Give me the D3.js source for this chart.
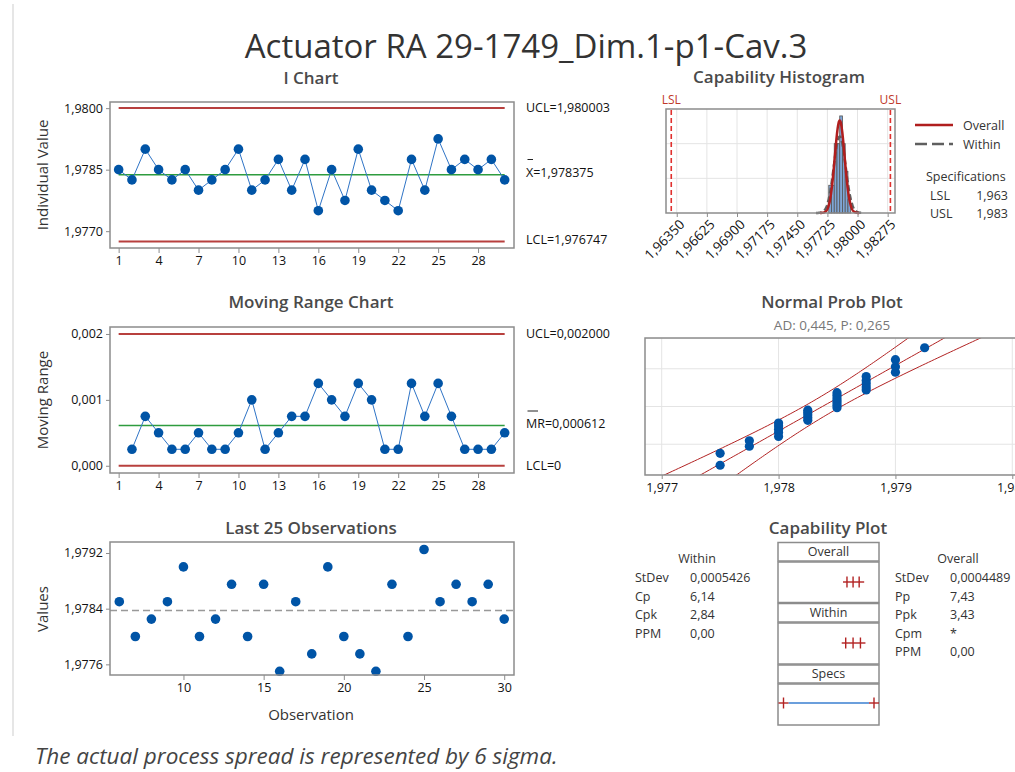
<!DOCTYPE html>
<html>
<head>
<meta charset="UTF-8">
<title>Process Capability Sixpack</title>
<script src="https://d3js.org/d3.v7.min.js"></script>
<style>
  body { margin: 0; background: #fff; }
  svg { font-family: "Open Sans", "Noto Sans", sans-serif; }
  .frame { fill: none; stroke: #8c8c8c; stroke-width: 1.5; }
  .tick text { fill: #111; font-size: 12.5px; font-family: "Open Sans", "Noto Sans", sans-serif; }
  .tick line { stroke: #8c8c8c; }
  .ptitle { fill: #4a4a4a; font-size: 17px; font-weight: 600; text-anchor: middle; }
  .ylab { fill: #333; font-size: 15px; text-anchor: middle; }
  .lim { fill: #111; font-size: 12.5px; }
  .grid { stroke: #e4e4e4; stroke-width: 1; }
  .stat { fill: #333; font-size: 12.5px; }
</style>
</head>
<body>
<svg width="1015" height="772"></svg>
<script>
// ---- data ----
const obsNo = [1,2,3,4,5,6,7,8,9,10,11,12,13,14,15,16,17,18,19,20,21,22,23,24,25,26,27,28,29,30];
const values = [1.9785, 1.97825, 1.979, 1.9785, 1.97825, 1.9785, 1.978, 1.97825, 1.9785, 1.979,
                1.978, 1.97825, 1.97875, 1.978, 1.97875, 1.9775, 1.9785, 1.97775, 1.979, 1.978,
                1.97775, 1.9775, 1.97875, 1.978, 1.97925, 1.9785, 1.97875, 1.9785, 1.97875, 1.97825];
const movingRange = [null, 0.00025, 0.00075, 0.0005, 0.00025, 0.00025, 0.0005, 0.00025, 0.00025, 0.0005,
                     0.001, 0.00025, 0.0005, 0.00075, 0.00075, 0.00125, 0.001, 0.00075, 0.00125, 0.001,
                     0.00025, 0.00025, 0.00125, 0.00075, 0.00125, 0.00075, 0.00025, 0.00025, 0.00025, 0.0005];

const meanX = 1.978375, uclX = 1.980003, lclX = 1.976747;
const mrBar = 0.000612, uclMR = 0.002, lclMR = 0;
const lsl = 1.963, usl = 1.983;
const sdWithin = 0.0005426, sdOverall = 0.0004489;

const binMids = [1.9775, 1.97775, 1.978, 1.97825, 1.9785, 1.97875, 1.979, 1.97925];
const binCounts = [2, 2, 5, 5, 7, 5, 3, 1];
const binWidth = 0.00025;

const iXTicks = [1,4,7,10,13,16,19,22,25,28];
const iYTicks = [1.977, 1.9785, 1.98];
const mrYTicks = [0, 0.001, 0.002];
const lastXTicks = [10,15,20,25,30];
const lastYTicks = [1.9776, 1.9784, 1.9792];
const histTicks = [1.9635, 1.96625, 1.969, 1.97175, 1.9745, 1.97725, 1.98, 1.98275];
const probTicks = [1.977, 1.978, 1.979, 1.98];
const probGrid = [0.01, 0.1, 0.5, 0.9, 0.99];

const withinStats = [["StDev", "0,0005426"], ["Cp", "6,14"], ["Cpk", "2,84"], ["PPM", "0,00"]];
const overallStats = [["StDev", "0,0004489"], ["Pp", "7,43"], ["Ppk", "3,43"], ["Cpm", "*"], ["PPM", "0,00"]];

// ---- helpers ----
const svg = d3.select("svg");
const fmt = d3.formatLocale({decimal: ",", thousands: ".", grouping: [3], currency: ["", ""]}).format;

const BLUE = "#0054a6", LINE = "#2f74c6", RED = "#b8403e", GREEN = "#2e9c3f";

function frame(x0, y0, x1, y1) {
  svg.append("rect").attr("class", "frame")
    .attr("x", x0).attr("y", y0).attr("width", x1 - x0).attr("height", y1 - y0);
}
function title(txt, x, y) {
  svg.append("text").attr("class", "ptitle").attr("x", x).attr("y", y).attr("dy", "0.35em").text(txt);
}
function ylabel(txt, x, y) {
  svg.append("text").attr("class", "ylab").attr("transform", `translate(${x},${y}) rotate(-90)`)
    .attr("dy", "0.35em").text(txt);
}
function noDomain(g) { g.select(".domain").remove(); }

function probit(p) {
  const a = [-3.969683028665376e+01, 2.209460984245205e+02, -2.759285104469687e+02, 1.383577518672690e+02, -3.066479806614716e+01, 2.506628277459239e+00];
  const b = [-5.447609879822406e+01, 1.615858368580409e+02, -1.556989798598866e+02, 6.680131188771972e+01, -1.328068155288572e+01];
  const c = [-7.784894002430293e-03, -3.223964580411365e-01, -2.400758277161838e+00, -2.549732539343734e+00, 4.374664141464968e+00, 2.938163982698783e+00];
  const d = [7.784695709041462e-03, 3.224671290700398e-01, 2.445134137142996e+00, 3.754408661907416e+00];
  let q, r;
  if (p < 0.02425) {
    q = Math.sqrt(-2 * Math.log(p));
    return (((((c[0]*q+c[1])*q+c[2])*q+c[3])*q+c[4])*q+c[5]) / ((((d[0]*q+d[1])*q+d[2])*q+d[3])*q+1);
  }
  if (p <= 1 - 0.02425) {
    q = p - 0.5; r = q * q;
    return (((((a[0]*r+a[1])*r+a[2])*r+a[3])*r+a[4])*r+a[5])*q / (((((b[0]*r+b[1])*r+b[2])*r+b[3])*r+b[4])*r+1);
  }
  q = Math.sqrt(-2 * Math.log(1 - p));
  return -(((((c[0]*q+c[1])*q+c[2])*q+c[3])*q+c[4])*q+c[5]) / ((((d[0]*q+d[1])*q+d[2])*q+d[3])*q+1);
}
const pdf = (x, m, s) => Math.exp(-0.5 * ((x - m) / s) ** 2) / (s * Math.sqrt(2 * Math.PI));

// page edge line
svg.append("line").attr("x1", 13).attr("x2", 13).attr("y1", 4).attr("y2", 736)
  .attr("stroke", "#dedede").attr("stroke-width", 1.5);

// main title
svg.append("text").attr("x", 526).attr("y", 58).attr("text-anchor", "middle")
  .attr("font-size", 33).attr("fill", "#333").text("Actuator RA 29-1749_Dim.1-p1-Cav.3");

// ================= I Chart =================
const xI = d3.scaleLinear().domain([0.35, 30.7]).range([110, 514]);
const yI = d3.scaleLinear().domain([1.97659, 1.98015]).range([248, 102]);
title("I Chart", 311, 78);
ylabel("Individual Value", 43, 175);

svg.append("g").attr("transform", "translate(0,248)")
  .call(d3.axisBottom(xI).tickValues(iXTicks).tickSize(5).tickPadding(3).tickFormat(d3.format("d"))).call(noDomain);
svg.append("g").attr("transform", "translate(110,0)")
  .call(d3.axisLeft(yI).tickValues(iYTicks).tickSize(4).tickPadding(3).tickFormat(fmt(".4f"))).call(noDomain);

[[uclX, RED, 2], [lclX, RED, 2], [meanX, GREEN, 1.6]].forEach(([v, col, w]) => {
  svg.append("line").attr("x1", xI(1)).attr("x2", xI(30)).attr("y1", yI(v)).attr("y2", yI(v))
    .attr("stroke", col).attr("stroke-width", w);
});
svg.append("path").datum(obsNo)
  .attr("d", d3.line().x(d => xI(d)).y((d, i) => yI(values[i])))
  .attr("fill", "none").attr("stroke", LINE).attr("stroke-width", 1);
svg.append("g").selectAll("circle").data(obsNo).join("circle")
  .attr("cx", d => xI(d)).attr("cy", (d, i) => yI(values[i])).attr("r", 4.8).attr("fill", BLUE);
frame(110, 102, 514, 248);

svg.append("text").attr("class", "lim").attr("x", 526).attr("y", yI(uclX)).attr("dy", "0.35em").text("UCL=" + fmt(".6f")(uclX));
svg.append("text").attr("class", "lim").attr("x", 526).attr("y", 173).attr("dy", "0.35em").text("X=" + fmt(".6f")(meanX));
svg.append("line").attr("x1", 527.5).attr("x2", 533).attr("y1", 159.5).attr("y2", 159.5).attr("stroke", "#222");
svg.append("text").attr("class", "lim").attr("x", 526).attr("y", 240).attr("dy", "0.35em").text("LCL=" + fmt(".6f")(lclX));

// ================= Moving Range =================
const yM = d3.scaleLinear().domain([-0.00011, 0.002106]).range([473, 327]);
title("Moving Range Chart", 311, 302);
ylabel("Moving Range", 43, 400);

svg.append("g").attr("transform", "translate(0,473)")
  .call(d3.axisBottom(xI).tickValues(iXTicks).tickSize(5).tickPadding(3).tickFormat(d3.format("d"))).call(noDomain);
svg.append("g").attr("transform", "translate(110,0)")
  .call(d3.axisLeft(yM).tickValues(mrYTicks).tickSize(4).tickPadding(3).tickFormat(fmt(".3f"))).call(noDomain);

[[uclMR, RED, 2], [lclMR, RED, 2], [mrBar, GREEN, 1.6]].forEach(([v, col, w]) => {
  svg.append("line").attr("x1", xI(1)).attr("x2", xI(30)).attr("y1", yM(v)).attr("y2", yM(v))
    .attr("stroke", col).attr("stroke-width", w);
});
const mrPts = obsNo.map((o, i) => ({o, v: movingRange[i]})).filter(d => d.v !== null);
svg.append("path").datum(mrPts)
  .attr("d", d3.line().x(d => xI(d.o)).y(d => yM(d.v)))
  .attr("fill", "none").attr("stroke", LINE).attr("stroke-width", 1);
svg.append("g").selectAll("circle").data(mrPts).join("circle")
  .attr("cx", d => xI(d.o)).attr("cy", d => yM(d.v)).attr("r", 4.8).attr("fill", BLUE);
frame(110, 327, 514, 473);

svg.append("text").attr("class", "lim").attr("x", 526).attr("y", yM(uclMR)).attr("dy", "0.35em").text("UCL=" + fmt(".6f")(uclMR));
svg.append("text").attr("class", "lim").attr("x", 526).attr("y", 424).attr("dy", "0.35em").text("MR=" + fmt(".6f")(mrBar));
svg.append("line").attr("x1", 527.5).attr("x2", 538).attr("y1", 411).attr("y2", 411).attr("stroke", "#222");
svg.append("text").attr("class", "lim").attr("x", 526).attr("y", yM(lclMR)).attr("dy", "0.35em").text("LCL=0");

// ================= Last 25 Observations =================
const xL = d3.scaleLinear().domain([5.42, 30.61]).range([110, 514]);
const yL = d3.scaleLinear().domain([1.977447, 1.979358]).range([675, 542]);
title("Last 25 Observations", 311, 528);
ylabel("Values", 43, 609);
svg.append("text").attr("class", "ylab").attr("x", 311).attr("y", 715).attr("dy", "0.35em").text("Observation");

svg.append("g").attr("transform", "translate(0,675)")
  .call(d3.axisBottom(xL).tickValues(lastXTicks).tickSize(5).tickPadding(3).tickFormat(d3.format("d"))).call(noDomain);
svg.append("g").attr("transform", "translate(110,0)")
  .call(d3.axisLeft(yL).tickValues(lastYTicks).tickSize(4).tickPadding(3).tickFormat(fmt(".4f"))).call(noDomain);

svg.append("line").attr("x1", 110).attr("x2", 514).attr("y1", yL(meanX)).attr("y2", yL(meanX))
  .attr("stroke", "#999").attr("stroke-width", 1.5).attr("stroke-dasharray", "7,4");
const last = obsNo.slice(-25);
svg.append("g").selectAll("circle").data(last).join("circle")
  .attr("cx", d => xL(d)).attr("cy", d => yL(values[d - 1])).attr("r", 4.8).attr("fill", BLUE);
frame(110, 542, 514, 675);

// ================= Capability Histogram =================
const xH = d3.scaleLinear().domain([1.96252, 1.98342]).range([666, 895]);
const yH = d3.scaleLinear().domain([0, 7.5]).range([213, 109]);
title("Capability Histogram", 779, 77);

histTicks.forEach(t => svg.append("line").attr("class", "grid")
  .attr("x1", xH(t)).attr("x2", xH(t)).attr("y1", 109).attr("y2", 213));
[2.5, 5].forEach(t => svg.append("line").attr("class", "grid")
  .attr("x1", 666).attr("x2", 895).attr("y1", yH(t)).attr("y2", yH(t)));

const hAxis = svg.append("g").attr("transform", "translate(0,213)")
  .call(d3.axisBottom(xH).tickValues(histTicks).tickSize(4).tickFormat(fmt(".5f"))).call(noDomain);
hAxis.selectAll("text").attr("text-anchor", "end").attr("y", 0).attr("dy", "0.35em")
  .style("font-size", "13.5px").attr("transform", "translate(5,9) rotate(-45)");

svg.append("g").selectAll("rect").data(binMids).join("rect")
  .attr("x", d => xH(d - binWidth / 2)).attr("width", d => xH(d + binWidth / 2) - xH(d - binWidth / 2))
  .attr("y", (d, i) => yH(binCounts[i])).attr("height", (d, i) => yH(0) - yH(binCounts[i]))
  .attr("fill", "#7fa6d6").attr("stroke", "#555").attr("stroke-width", 0.8);

const nObs = values.length;
const curve = (s) => d3.range(meanX - 4 * s, meanX + 4 * s, s / 25).map(x => [x, nObs * binWidth * pdf(x, meanX, s)]);
svg.append("path").datum(curve(sdWithin))
  .attr("d", d3.line().x(d => xH(d[0])).y(d => yH(d[1])))
  .attr("fill", "none").attr("stroke", "#5f5f5f").attr("stroke-width", 2.5).attr("stroke-dasharray", "6,3");
svg.append("path").datum(curve(sdOverall))
  .attr("d", d3.line().x(d => xH(d[0])).y(d => yH(d[1])))
  .attr("fill", "none").attr("stroke", "#b01e1e").attr("stroke-width", 2.5);

[[lsl, "LSL"], [usl, "USL"]].forEach(([v, lab]) => {
  svg.append("line").attr("x1", xH(v)).attr("x2", xH(v)).attr("y1", 110).attr("y2", 212)
    .attr("stroke", "#e0302e").attr("stroke-width", 1.6).attr("stroke-dasharray", "5,3");
  svg.append("text").attr("x", xH(v)).attr("y", 100).attr("dy", "0.35em").attr("text-anchor", "middle")
    .attr("font-size", 12).attr("fill", "#c0392b").text(lab);
});
frame(666, 109, 895, 213);

// legend
svg.append("line").attr("x1", 915).attr("x2", 953).attr("y1", 125).attr("y2", 125).attr("stroke", "#b01e1e").attr("stroke-width", 2.5);
svg.append("text").attr("class", "stat").attr("x", 963).attr("y", 126).attr("dy", "0.35em").text("Overall");
svg.append("line").attr("x1", 915).attr("x2", 953).attr("y1", 144).attr("y2", 144).attr("stroke", "#5f5f5f").attr("stroke-width", 2.5).attr("stroke-dasharray", "12,5");
svg.append("text").attr("class", "stat").attr("x", 963).attr("y", 145).attr("dy", "0.35em").text("Within");
svg.append("text").attr("class", "stat").attr("x", 926).attr("y", 177).attr("dy", "0.35em").attr("font-size", 12).text("Specifications");
[["LSL", lsl, 196], ["USL", usl, 214]].forEach(([lab, v, y]) => {
  svg.append("text").attr("class", "stat").attr("x", 930).attr("y", y).attr("dy", "0.35em").attr("font-size", 12).text(lab);
  svg.append("text").attr("class", "stat").attr("x", 1008).attr("y", y).attr("dy", "0.35em").attr("font-size", 12)
    .attr("text-anchor", "end").text(fmt(".3f")(v));
});

// ================= Normal Prob Plot =================
const xP = d3.scaleLinear().domain([1.976857, 1.980143]).range([645, 1029]);
const zMax = probit(0.99);
const yP = d3.scaleLinear().domain([-zMax, zMax]).range([475, 338]);
title("Normal Prob Plot", 832, 302);
svg.append("text").attr("x", 832).attr("y", 325).attr("dy", "0.35em").attr("text-anchor", "middle")
  .attr("font-size", 13.5).attr("fill", "#777").text("AD: 0,445, P: 0,265");

svg.append("clipPath").attr("id", "pclip").append("rect").attr("x", 645).attr("y", 338).attr("width", 384).attr("height", 137);
const pg = svg.append("g").attr("clip-path", "url(#pclip)");
probTicks.forEach(t => pg.append("line").attr("class", "grid").attr("x1", xP(t)).attr("x2", xP(t)).attr("y1", 338).attr("y2", 475));
probGrid.forEach(p => pg.append("line").attr("class", "grid").attr("x1", 645).attr("x2", 1029).attr("y1", yP(probit(p))).attr("y2", yP(probit(p))));

svg.append("g").attr("transform", "translate(0,475)")
  .call(d3.axisBottom(xP).tickValues(probTicks).tickSize(4).tickPadding(4).tickFormat(fmt(".3f"))).call(noDomain);

const zs = d3.range(-2.8, 2.81, 0.05);
const band = (k) => zs.map(z => {
  const se = sdOverall * Math.sqrt(1 / nObs + z * z / (2 * nObs));
  return [meanX + z * sdOverall + k * 1.96 * se, z];
});
[-1, 0, 1].forEach(k => pg.append("path").datum(band(k))
  .attr("d", d3.line().x(d => xP(d[0])).y(d => yP(d[1])))
  .attr("fill", "none").attr("stroke", "#b22222").attr("stroke-width", 1));

const sorted = values.slice().sort(d3.ascending);
pg.append("g").selectAll("circle").data(sorted).join("circle")
  .attr("cx", d => xP(d)).attr("cy", (d, i) => yP(probit((i + 1 - 0.3) / (nObs + 0.4))))
  .attr("r", 4.6).attr("fill", BLUE);
frame(645, 338, 1029, 475);

// ================= Capability Plot =================
const xC = d3.scaleLinear().domain([lsl, usl]).range([783.5, 874]);
title("Capability Plot", 828, 528);
const boxes = [
  {lab: "Overall", h0: 542.5, h1: 561, b1: 602.5},
  {lab: "Within", h0: 603.5, h1: 622, b1: 664},
  {lab: "Specs", h0: 665, h1: 683, b1: 725}
];
boxes.forEach(b => {
  frame(778, b.h0, 879, b.h1);
  frame(778, b.h1 + 1, 879, b.b1);
  svg.append("text").attr("class", "stat").attr("x", 828.5).attr("y", (b.h0 + b.h1) / 2).attr("dy", "0.35em")
    .attr("text-anchor", "middle").text(b.lab);
});
[[sdOverall, 582], [sdWithin, 643]].forEach(([s, y]) => {
  const lo = xC(meanX - 3 * s), hi = xC(meanX + 3 * s);
  svg.append("line").attr("x1", lo - 4).attr("x2", hi + 5).attr("y1", y).attr("y2", y).attr("stroke", "#b22222").attr("stroke-width", 1.4);
  [lo, xC(meanX), hi].forEach(x => svg.append("line").attr("x1", x).attr("x2", x).attr("y1", y - 5.5).attr("y2", y + 5.5)
    .attr("stroke", "#b22222").attr("stroke-width", 1.4));
});
svg.append("line").attr("x1", xC(lsl) + 5).attr("x2", xC(usl) - 5).attr("y1", 703).attr("y2", 703).attr("stroke", "#3a7fd0").attr("stroke-width", 1.5);
[lsl, usl].forEach(v => {
  svg.append("line").attr("x1", xC(v) - 5).attr("x2", xC(v) + 5).attr("y1", 703).attr("y2", 703).attr("stroke", "#b22222").attr("stroke-width", 1.4);
  svg.append("line").attr("x1", xC(v)).attr("x2", xC(v)).attr("y1", 697.5).attr("y2", 708.5).attr("stroke", "#b22222").attr("stroke-width", 1.4);
});

function statTable(head, hx, lx, vx, rows) {
  svg.append("text").attr("class", "stat").attr("x", hx).attr("y", 559).attr("dy", "0.35em").attr("text-anchor", "middle").text(head);
  rows.forEach(([k, v], i) => {
    const y = 578 + i * 18.4;
    svg.append("text").attr("class", "stat").attr("x", lx).attr("y", y).attr("dy", "0.35em").text(k);
    svg.append("text").attr("class", "stat").attr("x", vx).attr("y", y).attr("dy", "0.35em").text(v);
  });
}
statTable("Within", 697, 635, 690, withinStats);
statTable("Overall", 958, 895, 950, overallStats);

// footnote
svg.append("text").attr("x", 35).attr("y", 764).attr("font-size", 22.5).attr("font-style", "italic")
  .attr("fill", "#444").text("The actual process spread is represented by 6 sigma.");
</script>
</body>
</html>
